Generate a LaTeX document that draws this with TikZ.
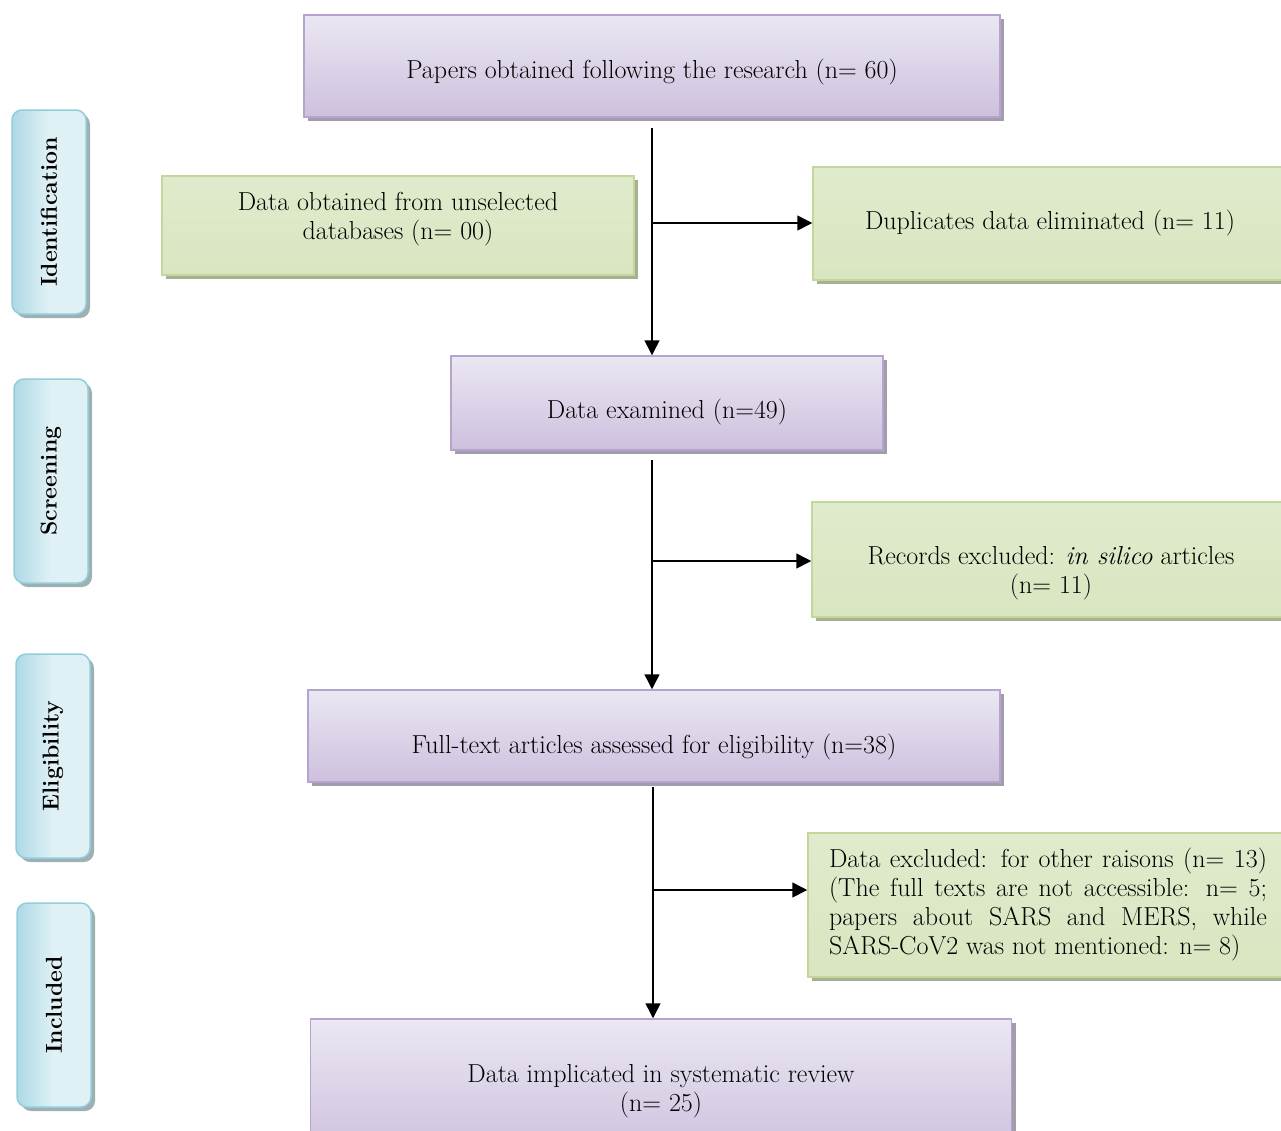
\documentclass[tikz,border=0pt]{standalone}
\usetikzlibrary{arrows.meta}
\usetikzlibrary{shadows}

\definecolor{purpLight}{HTML}{EBE7F2}
\definecolor{purpDark}{HTML}{CDC0DE}
\definecolor{purpLine}{HTML}{B6A4CE}
\definecolor{purpShade}{HTML}{A29CAD}
\definecolor{grnLight}{HTML}{F1F5E9}
\definecolor{grnDark}{HTML}{D9E6C0}
\definecolor{grnLine}{HTML}{C3D69B}
\definecolor{grnShade}{HTML}{A8B094}
\definecolor{bluLight}{HTML}{E0F1F6}
\definecolor{bluDark}{HTML}{ADD9E5}
\definecolor{bluLine}{HTML}{92CDDC}
\definecolor{bluShade}{HTML}{9FB0B4}

\newcommand{\fs}{\fontsize{26}{29}\selectfont}

\tikzset{
  purpbox/.style={draw=purpLine, line width=1.5pt, top color=purpLight,
    middle color=purpLight, bottom color=purpDark,
    drop shadow={shadow xshift=4pt, shadow yshift=-4pt, fill=purpShade, opacity=1},
    align=center, font=\fs, inner sep=0pt, anchor=base},
  grnbox/.style={draw=grnLine, line width=1.5pt, top color=grnDark!70!grnLight,
    middle color=grnLight, bottom color=grnDark,
    drop shadow={shadow xshift=4pt, shadow yshift=-4pt, fill=grnShade, opacity=1},
    align=center, font=\fs, inner sep=0pt, anchor=base},
  sidebox/.style={draw=bluLine, line width=1.5pt, rounded corners=10pt,
    left color=bluDark, right color=bluLight, middle color=bluLight,
    drop shadow={shadow xshift=4pt, shadow yshift=-4pt, fill=bluShade, opacity=1},
    minimum width=74pt, minimum height=204pt, inner sep=0pt,
    font=\fontsize{23}{28}\selectfont\bfseries},
  arr/.style={line width=1.5pt, -{Triangle[length=15pt,width=15pt]}}
}

\begin{document}
\begin{tikzpicture}[x=1pt, y=-1pt]

\clip (0,0) rectangle (1281,1130);

% side labels
\node[sidebox] (ident) at (49,212) {\rotatebox{90}{Identification}};
\node[sidebox] (scree) at (51,481) {\rotatebox{90}{Screening}};
\node[sidebox] (eligi) at (53,756) {\rotatebox{90}{Eligibility}};
\node[sidebox] (inclu) at (54,1005) {\rotatebox{90}{Included}};

% main column (placed at the baseline of the last text line)
\node[purpbox, minimum width=696pt, text height=63pt, text depth=39pt] (papers) at (652,78)
  {Papers obtained following the research (n= 60)};
\node[purpbox, minimum width=432pt, text height=62pt, text depth=32pt] (exam) at (667,418)
  {Data examined (n=49)};
\node[purpbox, minimum width=692pt, text height=63pt, text depth=29pt] (full) at (654,753)
  {Full-text articles assessed for eligibility (n=38)};
\node[purpbox, minimum width=701pt, text height=92pt, text depth=46pt] (impl) at (661,1111)
  {Data implicated in systematic review\\(n= 25)};

% side boxes
\node[grnbox, minimum width=472pt, text height=63pt, text depth=36pt] (unsel) at (398,239)
  {Data obtained from unselected\\databases (n= 00)};
\node[grnbox, minimum width=474pt, text height=62pt, text depth=51pt] (dupl) at (1050,229)
  {Duplicates data eliminated (n= 11)};
\node[grnbox, minimum width=478pt, text height=91pt, text depth=24pt] (silico) at (1051,593)
  {Records excluded: \textit{in silico} articles\\(n= 11)};
\node[grnbox, minimum width=480pt, text height=34pt, text depth=110pt, text width=438pt,
  align=justify] (other) at (1048,867)
  {Data excluded: for other raisons (n= 13)\linebreak (The full texts are not accessible: n= 5;\linebreak papers about SARS and MERS, while\linebreak SARS-CoV2 was not mentioned: n=~8)};

% connectors
\coordinate (b1) at (652,223);
\coordinate (t2) at (652,460);
\coordinate (b2) at (652,561);
\coordinate (t3) at (653,787);
\coordinate (b3) at (653,890);

\draw[arr, shorten <=10pt] (papers.south) -- (papers.south |- exam.north);
\draw[arr] (b1) -- (dupl.west |- b1);
\draw[arr] (t2) -- (t2 |- full.north);
\draw[arr] (b2) -- (silico.west |- b2);
\draw[arr] (t3) -- (t3 |- impl.north);
\draw[arr] (b3) -- (other.west |- b3);

\end{tikzpicture}
\end{document}
